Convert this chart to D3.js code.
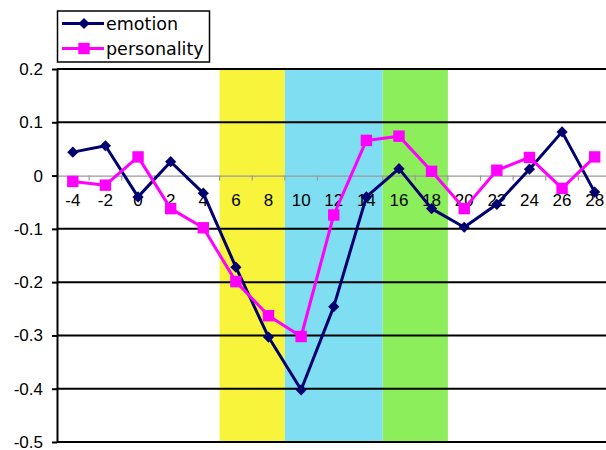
<!DOCTYPE html>
<html>
<head>
<meta charset="utf-8">
<script src="https://cdn.jsdelivr.net/npm/d3@7"></script>
<style>
  html, body { margin: 0; padding: 0; background: #fff; }
  svg { display: block; font-family: "DejaVu Sans", Verdana, sans-serif; }
</style>
</head>
<body>
<svg id="chart" width="606" height="450"></svg>
<script>
// Time offsets along the category axis
const categories = [-4, -2, 0, 2, 4, 6, 8, 10, 12, 14, 16, 18, 20, 22, 24, 26, 28];

// Series values
const emotion = [0.044, 0.056, -0.040, 0.026, -0.033, -0.172, -0.303, -0.402, -0.246, -0.040, 0.013, -0.062, -0.097, -0.054, 0.012, 0.082, -0.031];
const personality = [-0.011, -0.018, 0.035, -0.062, -0.098, -0.199, -0.263, -0.302, -0.074, 0.066, 0.074, 0.008, -0.062, 0.010, 0.034, -0.024, 0.035];

// Shaded phases, given as first and last category covered
const phaseStart = [6, 10, 16];
const phaseEnd = [8, 14, 18];
const phaseColors = ["#f8f43c", "#80def2", "#8cee5a"];

// Value axis ticks
const yTickValues = [0.2, 0.1, 0, -0.1, -0.2, -0.3, -0.4, -0.5];
const yTickLabels = ["0.2", "0.1", "0", "-0.1", "-0.2", "-0.3", "-0.4", "-0.5"];

const seriesNames = ["emotion", "personality"];
const seriesColors = ["#00006e", "#ff00ff"];

const svg = d3.select("#chart");
const plotLeft = 57, plotRight = 611, plotTop = 69, plotBottom = 442;

const x = d3.scaleBand().domain(categories).range([plotLeft - 0.5, plotRight]).paddingInner(0).paddingOuter(0);
const y = d3.scaleLinear().domain([-0.5, 0.2]).range([plotBottom, plotTop]);

// Phase backgrounds span whole categories
svg.append("g").selectAll("rect")
  .data(phaseStart.map((s, i) => ({ s, e: phaseEnd[i], c: phaseColors[i] })))
  .join("rect")
  .attr("x", d => x(d.s))
  .attr("width", d => x(d.e) + x.bandwidth() - x(d.s))
  .attr("y", y(0.2))
  .attr("height", y(-0.5) - y(0.2))
  .attr("fill", d => d.c);

// Horizontal gridlines (zero is drawn as the category axis instead)
svg.append("g").selectAll("line")
  .data(yTickValues.filter(v => v !== 0))
  .join("line")
  .attr("x1", plotLeft).attr("x2", plotRight)
  .attr("y1", d => y(d)).attr("y2", d => y(d))
  .attr("stroke", "#000").attr("stroke-width", 2);

// Category axis through zero
const xAxis = svg.append("g")
  .attr("transform", `translate(0,${y(0)})`)
  .call(d3.axisBottom(x).tickSize(0).tickPadding(18));
xAxis.select(".domain").attr("stroke", "#9a9a9a").attr("stroke-width", 1.2);
xAxis.selectAll("text").attr("font-size", 17).attr("fill", "#000");

// Tick marks between categories
svg.append("g").selectAll("line")
  .data(d3.range(1, categories.length))
  .join("line")
  .attr("x1", k => x(categories[k])).attr("x2", k => x(categories[k]))
  .attr("y1", y(0)).attr("y2", y(0) + 5)
  .attr("stroke", "#9a9a9a").attr("stroke-width", 1.2);

// Value axis
const yAxis = svg.append("g")
  .attr("transform", `translate(${plotLeft},0)`)
  .call(d3.axisLeft(y).tickValues(yTickValues)
    .tickFormat((d, i) => yTickLabels[i]).tickSizeInner(5).tickSizeOuter(0).tickPadding(9));
yAxis.select(".domain").attr("stroke", "#000").attr("stroke-width", 2);
yAxis.selectAll(".tick line").attr("stroke", "#000").attr("stroke-width", 2);
yAxis.selectAll("text").attr("font-size", 17).attr("fill", "#000");

const cx = d => x(d) + x.bandwidth() / 2;
const diamond = d3.symbol().type(d3.symbolDiamond2 || d3.symbolDiamond).size(80);
const square = d3.symbol().type(d3.symbolSquare).size(130);

const series = [emotion, personality];
const shapes = [diamond, square];

series.forEach((vals, si) => {
  const pts = categories.map((c, i) => [cx(c), y(vals[i])]);
  svg.append("path")
    .attr("d", d3.line()(pts))
    .attr("fill", "none")
    .attr("stroke", seriesColors[si])
    .attr("stroke-width", 3)
    .attr("stroke-linejoin", "round");
  svg.append("g").selectAll("path")
    .data(pts)
    .join("path")
    .attr("d", shapes[si]())
    .attr("transform", p => `translate(${p[0]},${p[1]})`)
    .attr("fill", seriesColors[si]);
});

// Legend
const legend = svg.append("g");
legend.append("rect")
  .attr("x", 57.5).attr("y", 11).attr("width", 152).attr("height", 51)
  .attr("fill", "#fff").attr("stroke", "#000").attr("stroke-width", 1.5);
seriesNames.forEach((name, i) => {
  const ly = 23.5 + i * 25;
  legend.append("line")
    .attr("x1", 62).attr("x2", 104).attr("y1", ly).attr("y2", ly)
    .attr("stroke", seriesColors[i]).attr("stroke-width", 3);
  legend.append("path")
    .attr("d", shapes[i]())
    .attr("transform", `translate(84,${ly})`)
    .attr("fill", seriesColors[i]);
  legend.append("text")
    .attr("x", 106).attr("y", ly + 6)
    .attr("font-size", 17.5).attr("fill", "#000")
    .text(name);
});
</script>
</body>
</html>
